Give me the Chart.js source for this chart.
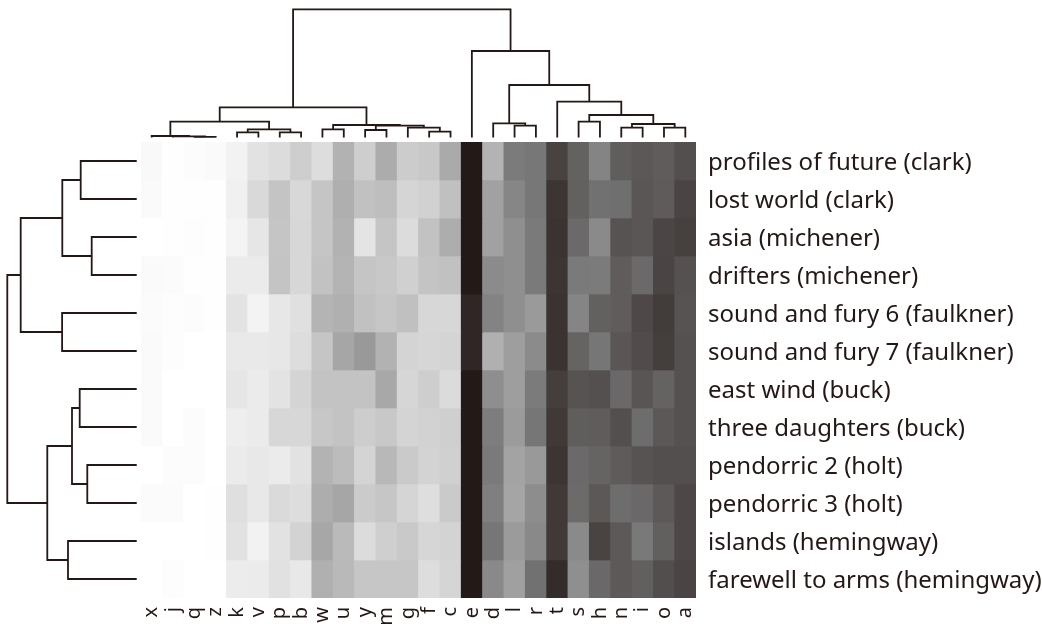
<!DOCTYPE html>
<html>
<head>
<meta charset="utf-8">
<script src="https://cdn.jsdelivr.net/npm/chart.js@4.4.0/dist/chart.umd.min.js"></script>
<style>
  body { margin: 0; background: #fff; }
  #wrap { position: relative; width: 1042px; height: 624px; overflow: hidden; background: #fff; }
  #wrap canvas { position: absolute; }
</style>
</head>
<body>
<div id="wrap">
  <canvas id="topTree" width="555" height="142" style="left:141px;top:0px"></canvas>
  <canvas id="sideTree" width="141" height="456" style="left:0px;top:142px"></canvas>
  <canvas id="heat" width="901" height="482" style="left:141px;top:142px"></canvas>
</div>
<script>
// columns (letters) in the order of the top dendrogram
const letters = ['x','j','q','z','k','v','p','b','w','u','y','m','g','f','c','e','d','l','r','t','s','h','n','i','o','a'];

// rows (books) in the order of the side dendrogram
const books = [
  'profiles of future (clark)',
  'lost world (clark)',
  'asia (michener)',
  'drifters (michener)',
  'sound and fury 6 (faulkner)',
  'sound and fury 7 (faulkner)',
  'east wind (buck)',
  'three daughters (buck)',
  'pendorric 2 (holt)',
  'pendorric 3 (holt)',
  'islands (hemingway)',
  'farewell to arms (hemingway)'
];

// cell brightness (0 = black, 255 = white), one value per letter
const profilesFuture = [249,254,252,250,242,226,220,206,221,178,206,172,204,200,170,35,179,123,119,72,100,132,96,91,95,83];
const lostWorld      = [250,254,254,254,240,217,196,216,197,175,193,190,213,209,192,35,161,134,119,60,99,114,112,90,94,74];
const asia           = [255,254,253,254,244,230,197,215,197,178,228,197,220,194,173,35,161,143,122,58,107,138,87,90,75,70];
const drifters       = [250,251,254,254,235,235,196,215,194,180,197,200,208,196,193,35,139,143,122,60,122,123,95,107,74,85];
const soundFury6     = [251,253,252,254,227,243,231,224,180,176,193,198,192,215,215,47,131,143,154,58,133,99,95,78,66,87];
const soundFury7     = [250,253,255,255,233,233,231,221,197,166,153,178,212,214,212,47,176,158,139,58,102,118,90,81,68,85];
const eastWind       = [250,255,255,255,230,235,227,212,195,195,195,168,214,206,219,35,142,158,123,68,87,84,106,89,101,85];
const threeDaughters = [250,255,252,255,238,235,215,215,199,195,205,200,212,210,207,35,125,155,118,64,96,95,83,110,91,85];
const pendorric2     = [255,252,252,255,235,232,235,226,179,188,212,184,202,211,208,35,122,163,153,60,107,102,94,87,83,83];
const pendorric3     = [251,251,255,254,223,232,218,221,173,166,203,198,213,222,202,35,127,165,141,64,108,91,110,106,92,77];
const islands        = [255,255,255,254,226,242,226,211,167,186,220,207,201,214,211,35,118,155,137,64,138,73,92,121,98,77];
const farewellArms   = [255,253,255,255,236,235,225,232,176,185,198,198,198,221,213,35,137,160,114,52,143,106,92,98,82,74];

const grid = [profilesFuture, lostWorld, asia, drifters, soundFury6, soundFury7,
              eastWind, threeDaughters, pendorric2, pendorric3, islands, farewellArms];

// column clustering: [childA, childB, height], leaves 0..25, merges numbered from 26
const letterLinks = [
  [2, 3, 0.7], [1, 26, 1.2], [0, 27, 1.5],
  [4, 5, 5.2], [6, 7, 5.2], [29, 30, 8.2], [28, 31, 15.8],
  [8, 9, 8.2], [10, 11, 7.5], [13, 14, 5.8], [12, 35, 9.8], [34, 36, 11.8], [33, 37, 12.5],
  [32, 38, 30.2],
  [17, 18, 11.8], [16, 40, 14.2],
  [20, 21, 15.8], [22, 23, 9.8], [24, 25, 9.8], [43, 44, 13.5], [42, 45, 22.5], [19, 46, 35.8],
  [41, 47, 52.5], [15, 48, 86.5],
  [39, 49, 128.2]
];

// row clustering: leaves 0..11, merges numbered from 12
const bookLinks = [
  [0, 1, 56], [2, 3, 45], [12, 13, 74.4], [4, 5, 74.6], [14, 15, 116],
  [6, 7, 57], [8, 9, 49.4], [17, 18, 64.7], [10, 11, 68.7], [19, 20, 89.4],
  [16, 21, 129.4]
];

const ink = '#231815';
const family = '"Noto Sans", "Open Sans", sans-serif';

function shade(v) {
  const warm = Math.max(0, 120 - v) / 85 * 10;
  return 'rgb(' + v + ',' + Math.round(v - warm) + ',' + Math.round(v - warm * 1.2) + ')';
}

// U shaped links of a dendrogram, leaf position = index
function treeLinks(links, nLeaves) {
  const pos = [], hgt = [];
  for (let i = 0; i < nLeaves; i++) { pos.push(i); hgt.push(0); }
  return links.map(([a, b, h]) => {
    const u = [[pos[a], hgt[a]], [pos[a], h], [pos[b], h], [pos[b], hgt[b]]];
    pos.push((pos[a] + pos[b]) / 2);
    hgt.push(h);
    return u;
  });
}

function treeDataset(points) {
  return {
    data: points,
    showLine: true,
    borderColor: ink,
    borderWidth: 1.8,
    pointRadius: 0,
    tension: 0,
    clip: false
  };
}

const baseOpts = {
  responsive: false,
  animation: false,
  layout: { padding: 0 },
  plugins: { legend: { display: false }, tooltip: { enabled: false } }
};

// top dendrogram
new Chart(document.getElementById('topTree'), {
  type: 'scatter',
  data: {
    datasets: treeLinks(letterLinks, letters.length)
      .map(u => treeDataset(u.map(([p, h]) => ({ x: p, y: h }))))
  },
  options: {
    ...baseOpts,
    scales: {
      x: { type: 'linear', min: -0.5, max: letters.length - 0.5, display: false },
      y: { type: 'linear', min: -4.5, max: 137.5, display: false }
    }
  }
});

// side dendrogram
new Chart(document.getElementById('sideTree'), {
  type: 'scatter',
  data: {
    datasets: treeLinks(bookLinks, books.length)
      .map(u => treeDataset(u.map(([p, h]) => ({ x: h, y: p }))))
  },
  options: {
    ...baseOpts,
    scales: {
      x: { type: 'linear', min: -4.3, max: 136.7, reverse: true, display: false },
      y: { type: 'linear', min: -0.5, max: books.length - 0.5, reverse: true, display: false }
    }
  }
});

// heatmap: one stacked bar of height 1 per cell
new Chart(document.getElementById('heat'), {
  type: 'bar',
  data: {
    labels: letters,
    datasets: books.map((name, r) => ({
      label: name,
      data: letters.map(() => 1),
      backgroundColor: grid[r].map(shade),
      borderWidth: 0,
      barPercentage: 1,
      categoryPercentage: 1,
      yAxisID: 'y'
    }))
  },
  options: {
    ...baseOpts,
    scales: {
      x: {
        stacked: true,
        grid: { display: false, drawTicks: false },
        border: { display: false },
        ticks: { autoSkip: false, minRotation: 90, maxRotation: 90, padding: 9, color: ink, font: { family, size: 20 } },
        afterFit: s => { s.height = 26; s.paddingLeft = 0; s.paddingRight = 0; }
      },
      y: { stacked: true, min: 0, max: books.length, reverse: true, display: false },
      rows: {
        type: 'category',
        labels: books,
        position: 'right',
        offset: true,
        grid: { display: false, drawTicks: false },
        border: { display: false },
        ticks: { autoSkip: false, padding: 12, labelOffset: 2, color: ink, font: { family, size: 24 } },
        afterFit: s => { s.width = 346; s.paddingTop = 0; s.paddingBottom = 0; }
      }
    }
  }
});
</script>
</body>
</html>
